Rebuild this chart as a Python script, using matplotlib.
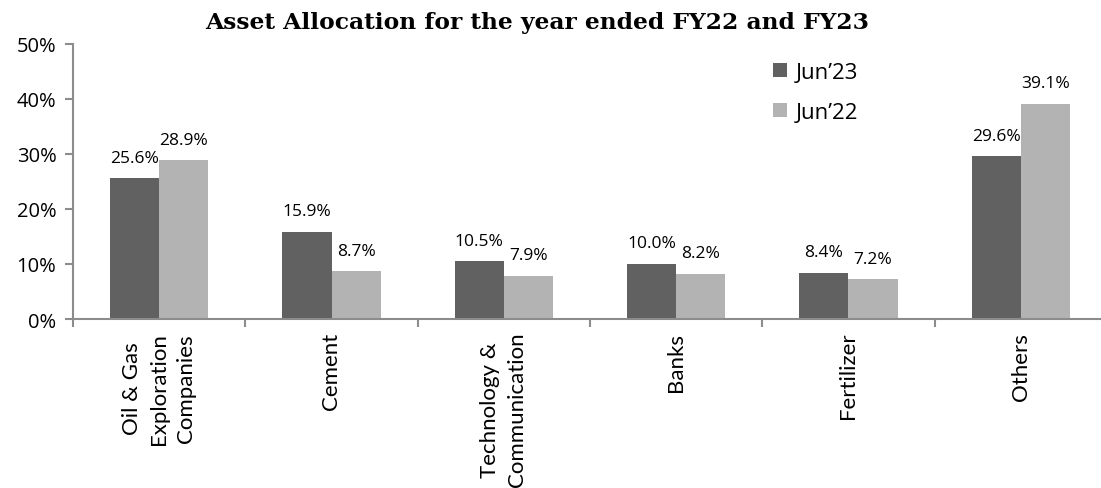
import matplotlib
matplotlib.use("Agg")
import matplotlib.pyplot as plt
import numpy as np

categories = ["Oil & Gas\nExploration\nCompanies", "Cement", "Technology &\nCommunication",
              "Banks", "Fertilizer", "Others"]
jun23 = [25.6, 15.9, 10.5, 10.0, 8.4, 29.6]
jun22 = [28.9, 8.7, 7.9, 8.2, 7.2, 39.1]
series_names = ["Jun\u201923", "Jun\u201922"]
yticks = [0, 10, 20, 30, 40, 50]

dark = "#616161"
light = "#b3b3b3"
axis_col = "#8c8c8c"
font = "Open Sans"

fig = plt.figure(figsize=(11.01, 4.89), dpi=100)
ax = fig.add_axes([73 / 1101, 1 - 320 / 489, (1107 - 73) / 1101, 275 / 489])

x = np.arange(len(categories))
w = 0.285
b1 = ax.bar(x - w / 2, jun23, w, color=dark, label=series_names[0])
b2 = ax.bar(x + w / 2, jun22, w, color=light, label=series_names[1])

for bars, vals in ((b1, jun23), (b2, jun22)):
    for r, v in zip(bars, vals):
        ax.annotate(f"{v:.1f}%", (r.get_x() + r.get_width() / 2, v),
                    xytext=(0, 9), textcoords="offset points",
                    ha="center", va="bottom", fontsize=12.5, family=font)

ax.set_xlim(-0.5, len(categories) - 0.5)
ax.set_ylim(0, 50)
ax.set_yticks(yticks)
ax.set_yticklabels([f"{t}%" for t in yticks], fontsize=14.5, family=font)

# category labels at centres, tick marks at boundaries
ax.set_xticks(np.arange(len(categories) + 1) - 0.5)
ax.set_xticklabels([])
ax.tick_params(axis="x", direction="out", length=6, color=axis_col, width=1.5)
ax.tick_params(axis="y", direction="out", length=6, color=axis_col, width=1.5, pad=6)
for i, c in enumerate(categories):
    ax.text(i, -2.3, c, rotation=90, ha="center", va="top", fontsize=16,
            family="Lato", linespacing=1.45, transform=ax.transData)

for s in ["top", "right"]:
    ax.spines[s].set_visible(False)
for s in ["left", "bottom"]:
    ax.spines[s].set_color(axis_col)
    ax.spines[s].set_linewidth(1.5)

leg = ax.legend(loc="upper left", bbox_to_anchor=(0.66, 1.0), frameon=False,
                prop={"family": font, "size": 16}, handlelength=0.6, handleheight=0.6,
                handletextpad=0.4, labelspacing=0.85, borderpad=0.3)

fig.text(537 / 1101, 1 - 23 / 489, "Asset Allocation for the year ended FY22 and FY23",
         ha="center", va="center", fontsize=16.8, fontweight="bold", family="DejaVu Serif")

fig.savefig("out.png", dpi=100, facecolor="white")
